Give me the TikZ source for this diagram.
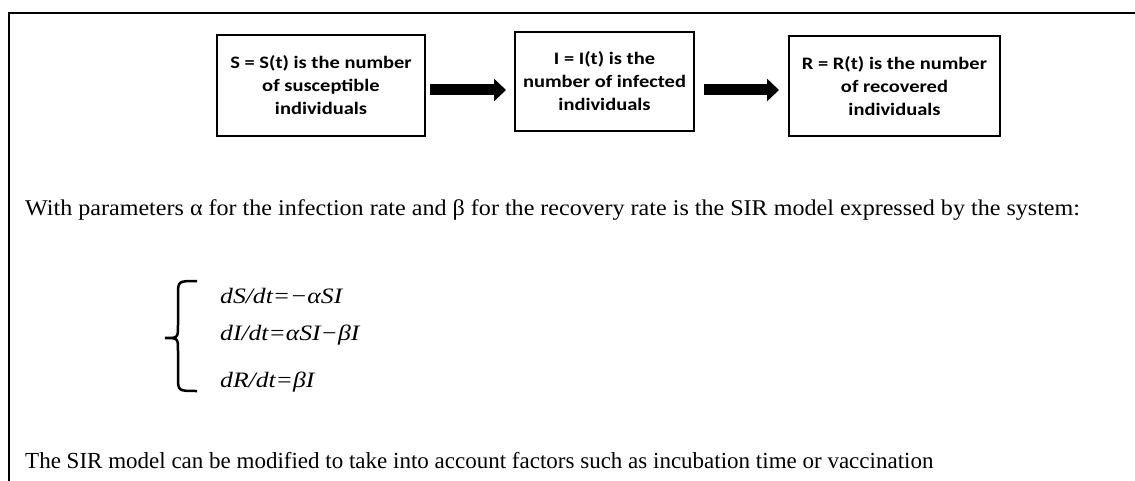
\documentclass[tikz,border=0pt]{standalone}
\usepackage{fontspec}
\setmainfont{Liberation Serif}
\newfontfamily\boxfont[FakeStretch=1.17]{Carlito}
\newfontfamily\bodyfont[FakeStretch=1.07]{Liberation Serif}
\newfontfamily\eqfont[FakeStretch=1.165]{Liberation Serif}
\usetikzlibrary{arrows.meta,positioning}

\tikzset{
  compartment/.style={draw, line width=2pt, align=center, inner sep=0pt,
    font=\boxfont\bfseries\fontsize{17.5}{23}\selectfont},
  flow/.style={line width=11pt, -{Triangle[width=22pt,length=12pt]}},
  bodytext/.style={anchor=base west, inner sep=0pt, font=\bodyfont\fontsize{22.5}{26}\selectfont},
  notetext/.style={anchor=base west, inner sep=0pt, font=\fontsize{23}{26}\selectfont},
  eqtext/.style={anchor=base west, inner sep=0pt, font=\eqfont\itshape\fontsize{22}{26}\selectfont},
}

\begin{document}
\begin{tikzpicture}[x=1pt,y=-1pt]
  \useasboundingbox (0,0) rectangle (1135,481);
  % frame
  \draw[line width=2pt] (9,481) -- (9,13) -- (1135,13);

  % compartments
  \node[compartment, minimum width=208pt, minimum height=101pt] (S) at (321,85.5)
    {S = S(t) is the number\\of susceptible\\individuals};
  \node[compartment, minimum width=179pt, minimum height=99pt] (I) at (604.5,81.5)
    {I = I(t) is the\\number of infected\\individuals};
  \node[compartment, minimum width=211pt, minimum height=100pt] (R) at (894.5,86)
    {R = R(t) is the number\\of recovered\\individuals};

  \draw[flow] ([xshift=4pt,yshift=-4.5pt]S.east) -- ([xshift=-8pt,yshift=-8.5pt]I.west);
  \draw[flow] ([xshift=9pt,yshift=-8.5pt]I.east) -- ([xshift=-9pt,yshift=-4pt]R.west);

  \node[bodytext] (intro) at (25,215)
    {With parameters α for the infection rate and β for the recovery rate is the SIR model expressed by the system:};

  % system
  \draw[line width=2.5pt] (197,281) .. controls (178,281) .. (178,295) -- (178,325)
    .. controls (178,338) .. (165,338) .. controls (178,338) .. (178,351) -- (178,377)
    .. controls (178,391) .. (197,391);
  \node[eqtext] (eqS) at (220,303) {dS/dt=−αSI};
  \node[eqtext] (eqI) at (220,340) {dI/dt=αSI−βI};
  \node[eqtext] (eqR) at (220,387) {dR/dt=βI};

  \node[notetext] (note) at (25,468)
    {The SIR model can be modified to take into account factors such as incubation time or vaccination};
\end{tikzpicture}
\end{document}
